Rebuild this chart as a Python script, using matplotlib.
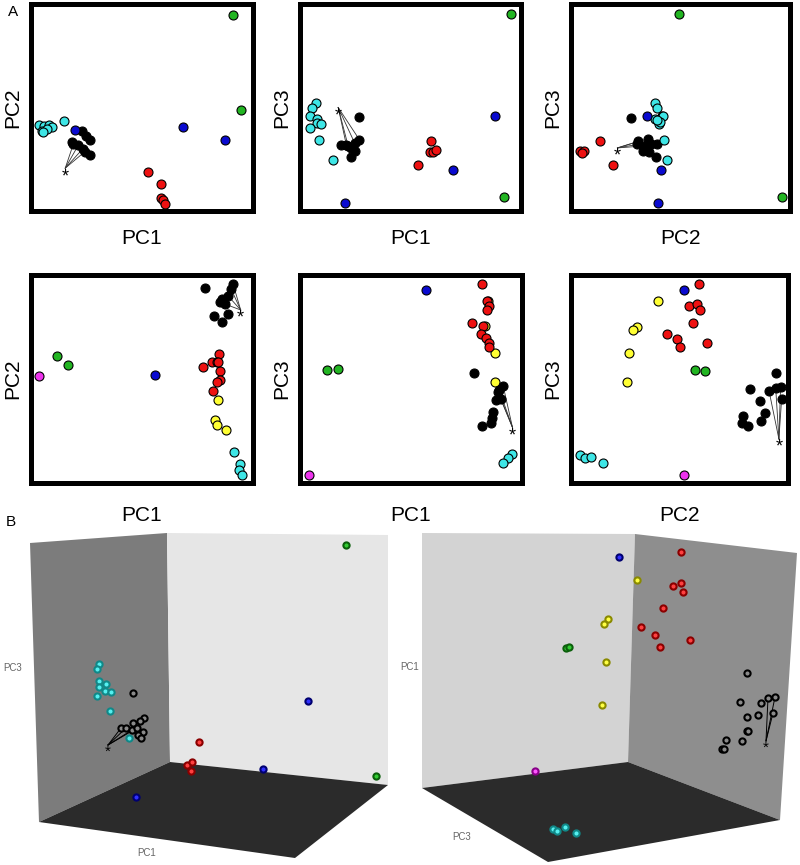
import matplotlib
matplotlib.use("Agg")
import matplotlib.pyplot as plt
from matplotlib.patches import Polygon

plt.rcParams['font.family'] = ['Liberation Sans', 'DejaVu Sans']

COLORS = {
    "cyan": "#3ee6e6",
    "black": "#000000",
    "blue": "#0a0ad0",
    "red": "#ee1111",
    "green": "#22b522",
    "yellow": "#ffff33",
    "magenta": "#ee33ee",
}

# ---- panel A: 2D projections (positions as fraction of each frame) ----
top_pc1_pc2 = {
    "cyan": [(0.027, 0.412), (0.049, 0.409), (0.072, 0.412), (0.084, 0.405), (0.039, 0.385),
             (0.060, 0.393), (0.042, 0.377), (0.139, 0.433)],
    "black": [(0.221, 0.385), (0.243, 0.361), (0.258, 0.337), (0.184, 0.321), (0.206, 0.313),
              (0.228, 0.297), (0.236, 0.281), (0.258, 0.265), (0.176, 0.329)],
    "blue": [(0.691, 0.404), (0.882, 0.340), (0.191, 0.388)],
    "red": [(0.527, 0.181), (0.587, 0.122), (0.587, 0.051), (0.597, 0.043), (0.606, 0.024)],
    "green": [(0.920, 0.960), (0.957, 0.488)],
}
top_pc1_pc3 = {
    "cyan": [(0.060, 0.524), (0.042, 0.500), (0.035, 0.457), (0.068, 0.444), (0.065, 0.421),
             (0.087, 0.416), (0.035, 0.400), (0.075, 0.341), (0.143, 0.241)],
    "black": [(0.260, 0.452), (0.263, 0.341), (0.241, 0.325), (0.180, 0.314), (0.203, 0.314),
              (0.226, 0.302), (0.245, 0.286), (0.226, 0.257), (0.211, 0.310)],
    "blue": [(0.892, 0.457), (0.699, 0.189), (0.195, 0.030)],
    "red": [(0.594, 0.333), (0.591, 0.278), (0.602, 0.282), (0.617, 0.289), (0.534, 0.214)],
    "green": [(0.967, 0.965), (0.931, 0.056)],
}
top_pc2_pc3 = {
    "black": [(0.269, 0.449), (0.414, 0.457), (0.303, 0.333), (0.348, 0.346), (0.330, 0.310),
              (0.361, 0.317), (0.391, 0.321), (0.323, 0.286), (0.353, 0.278), (0.386, 0.257),
              (0.297, 0.317)],
    "cyan": [(0.379, 0.524), (0.388, 0.500), (0.379, 0.444), (0.418, 0.457), (0.399, 0.416),
             (0.406, 0.429), (0.421, 0.341), (0.437, 0.241), (0.391, 0.436)],
    "blue": [(0.345, 0.457), (0.409, 0.189), (0.394, 0.030)],
    "red": [(0.125, 0.333), (0.029, 0.286), (0.049, 0.283), (0.041, 0.273), (0.186, 0.214)],
    "green": [(0.495, 0.965), (0.974, 0.056)],
}
bot_pc1_pc2 = {
    "black": [(0.792, 0.946), (0.920, 0.968), (0.912, 0.941), (0.897, 0.909), (0.867, 0.893),
              (0.860, 0.877), (0.882, 0.869), (0.897, 0.821), (0.830, 0.809), (0.870, 0.780)],
    "green": [(0.109, 0.611), (0.158, 0.569)],
    "magenta": [(0.025, 0.515)],
    "blue": [(0.561, 0.518)],
    "red": [(0.855, 0.622), (0.825, 0.585), (0.845, 0.585), (0.780, 0.561), (0.860, 0.537),
            (0.860, 0.494), (0.845, 0.483), (0.827, 0.439), (0.852, 0.582)],
    "yellow": [(0.849, 0.396), (0.837, 0.298), (0.845, 0.276), (0.887, 0.250)],
    "cyan": [(0.923, 0.140), (0.950, 0.083), (0.946, 0.051), (0.962, 0.029)],
}
bot_pc1_pc3 = {
    "yellow": [(0.855, 0.885), (0.840, 0.761), (0.888, 0.627), (0.889, 0.486)],
    "red": [(0.829, 0.970), (0.850, 0.885), (0.862, 0.861), (0.852, 0.841), (0.780, 0.777),
            (0.832, 0.761), (0.825, 0.722), (0.847, 0.702), (0.859, 0.678), (0.862, 0.659)],
    "blue": [(0.567, 0.936)],
    "green": [(0.112, 0.542), (0.162, 0.547)],
    "black": [(0.790, 0.529), (0.925, 0.467), (0.907, 0.445), (0.892, 0.397), (0.915, 0.402),
              (0.877, 0.338), (0.874, 0.309), (0.870, 0.281), (0.829, 0.268), (0.900, 0.437)],
    "cyan": [(0.964, 0.131), (0.948, 0.112), (0.925, 0.088)],
    "magenta": [(0.030, 0.029)],
}
bot_pc2_pc3 = {
    "red": [(0.594, 0.970), (0.544, 0.861), (0.581, 0.869), (0.597, 0.841), (0.566, 0.774),
            (0.440, 0.721), (0.486, 0.697), (0.502, 0.657), (0.629, 0.675)],
    "blue": [(0.521, 0.936)],
    "yellow": [(0.397, 0.882), (0.299, 0.757), (0.279, 0.742), (0.261, 0.627), (0.253, 0.486)],
    "green": [(0.574, 0.545), (0.620, 0.541)],
    "black": [(0.954, 0.529), (0.831, 0.450), (0.977, 0.462), (0.954, 0.455), (0.923, 0.439),
              (0.982, 0.402), (0.882, 0.391), (0.903, 0.335), (0.885, 0.295), (0.798, 0.317),
              (0.794, 0.284), (0.821, 0.268)],
    "cyan": [(0.031, 0.128), (0.052, 0.112), (0.084, 0.117), (0.141, 0.088)],
    "magenta": [(0.521, 0.029)],
}

# asterisk position and the black points it points to
stars_a = [
    ((0.146, 0.200), [3, 4, 5, 6]),
    ((0.165, 0.500), [1, 2, 4, 8]),
    ((0.205, 0.300), [2, 3, 4, 10]),
    ((0.955, 0.840), [1, 2, 3, 6]),
    ((0.968, 0.262), [1, 2, 4, 9]),
    ((0.969, 0.205), [2, 3, 4, 5]),
]

panels_a = [top_pc1_pc2, top_pc1_pc3, top_pc2_pc3, bot_pc1_pc2, bot_pc1_pc3, bot_pc2_pc3]
xlabels_a = ["PC1", "PC1", "PC2", "PC1", "PC1", "PC2"]
ylabels_a = ["PC2", "PC3", "PC3", "PC2", "PC3", "PC3"]

# frame boxes in pixels (x0, x1, y0, y1)
boxes = [(31, 253, 4, 211), (300, 521, 4, 211), (571, 790, 4, 211),
         (31, 253, 275, 483), (300, 522, 275, 483), (571, 788, 275, 483)]

# ---- panel B: two 3D views, screen positions in pixels ----
b_left = {
    "cyan": [(99, 664), (97, 669), (99, 681), (106, 684), (99, 687), (105, 691), (111, 692),
             (97, 696), (110, 711), (129, 738)],
    "black": [(133, 693), (144, 718), (140, 721), (133, 723), (121, 728), (126, 728), (132, 730),
              (137, 728), (143, 732), (138, 735), (141, 738)],
    "red": [(199, 742), (187, 765), (192, 762), (191, 771)],
    "blue": [(308, 701), (263, 769), (136, 797)],
    "green": [(346, 545), (376, 776)],
}
b_right = {
    "magenta": [(535, 771)],
    "cyan": [(553, 829), (557, 831), (565, 827), (576, 833)],
    "green": [(566, 648), (569, 647)],
    "yellow": [(637, 580), (608, 619), (604, 624), (606, 662), (602, 705)],
    "blue": [(619, 557)],
    "red": [(681, 552), (673, 586), (681, 583), (683, 592), (663, 608), (641, 627), (655, 635),
            (660, 647), (690, 640)],
    "black": [(747, 673), (740, 702), (761, 703), (768, 698), (775, 697), (747, 717), (758, 715),
              (773, 713), (747, 731), (748, 731), (726, 740), (742, 741), (722, 749), (724, 749)],
}
stars_b = [((108, 745), b_left, [4, 5, 6, 7]), ((766, 741), b_right, [3, 4, 7])]

EDGE = {"cyan": "#118888", "black": "#000000", "red": "#8a0000", "blue": "#000070",
        "green": "#0b5f0b", "yellow": "#8a8a00", "magenta": "#880088"}
FACE_B = {"cyan": "#55f0f0", "black": "#8a8a8a", "red": "#ff4040", "blue": "#3030ff",
          "green": "#33cc33", "yellow": "#ffff44", "magenta": "#ff55ff"}

W, H = 800, 865
fig = plt.figure(figsize=(8, 8.65), dpi=100)

for i, data in enumerate(panels_a):
    x0, x1, y0, y1 = boxes[i]
    ax = fig.add_axes([x0 / W, 1 - y1 / H, (x1 - x0) / W, (y1 - y0) / H])
    ax.set_xlim(-0.012, 1.012)
    ax.set_ylim(-0.012, 1.012)
    ax.set_xticks([])
    ax.set_yticks([])
    for sp in ax.spines.values():
        sp.set_linewidth(3.6)
        sp.set_color("black")
    (sx, sy), idx = stars_a[i]
    for k in idx:
        px, py = data["black"][k]
        ax.plot([sx, px], [sy, py], color="#333333", lw=0.6, zorder=2)
    ax.text(sx, sy, "*", ha="center", va="top", fontsize=13, zorder=4)
    for grp, pts in data.items():
        ax.scatter([p[0] for p in pts], [p[1] for p in pts], s=42, c=COLORS[grp],
                   edgecolors="black", linewidths=0.8, zorder=3, clip_on=False)
    ax.set_xlabel(xlabels_a[i], fontsize=15)
    ax.set_ylabel(ylabels_a[i], fontsize=15)
    ax.xaxis.set_label_coords(0.5, -0.085 if i < 3 else -0.11)
    ax.yaxis.set_label_coords(-0.04, 0.5)

fig.text(8 / W, 1 - 12 / H, "A", fontsize=11, va="center")
fig.text(6 / W, 1 - 522 / H, "B", fontsize=11, va="center")

# panel B drawn in pixel coordinates
bx = fig.add_axes([0, 0, 1, (H - 528) / H])
bx.set_xlim(0, W)
bx.set_ylim(H, 528)
bx.axis("off")

walls = [
    ([(30, 543), (167, 533), (170, 762), (39, 822)], "#7c7c7c"),
    ([(167, 533), (388, 535), (388, 785), (170, 762)], "#e6e6e6"),
    ([(39, 822), (170, 762), (388, 785), (295, 858)], "#2b2b2b"),
    ([(422, 533), (635, 534), (628, 762), (422, 788)], "#d3d3d3"),
    ([(635, 534), (797, 553), (780, 820), (628, 762)], "#8e8e8e"),
    ([(422, 788), (628, 762), (780, 820), (548, 862)], "#2b2b2b"),
]
for verts, col in walls:
    bx.add_patch(Polygon(verts, closed=True, facecolor=col, edgecolor="none", zorder=1))

bx.text(13, 668, "PC3", fontsize=7, color="#666666", ha="center", va="center")
bx.text(147, 853, "PC1", fontsize=7, color="#666666", ha="center", va="center")
bx.text(410, 667, "PC1", fontsize=7, color="#666666", ha="center", va="center")
bx.text(462, 837, "PC3", fontsize=7, color="#666666", ha="center", va="center")

for (sx, sy), data, idx in stars_b:
    for k in idx:
        px, py = data["black"][k]
        bx.plot([sx, px], [sy, py], color="black", lw=0.7, zorder=2)
    bx.text(sx, sy, "*", ha="center", va="top", fontsize=11, zorder=4)

for data in (b_left, b_right):
    for grp, pts in data.items():
        bx.scatter([p[0] for p in pts], [p[1] for p in pts], s=20, c=FACE_B[grp],
                   edgecolors=EDGE[grp], linewidths=1.5, zorder=3)

fig.savefig("out.png", dpi=100)
